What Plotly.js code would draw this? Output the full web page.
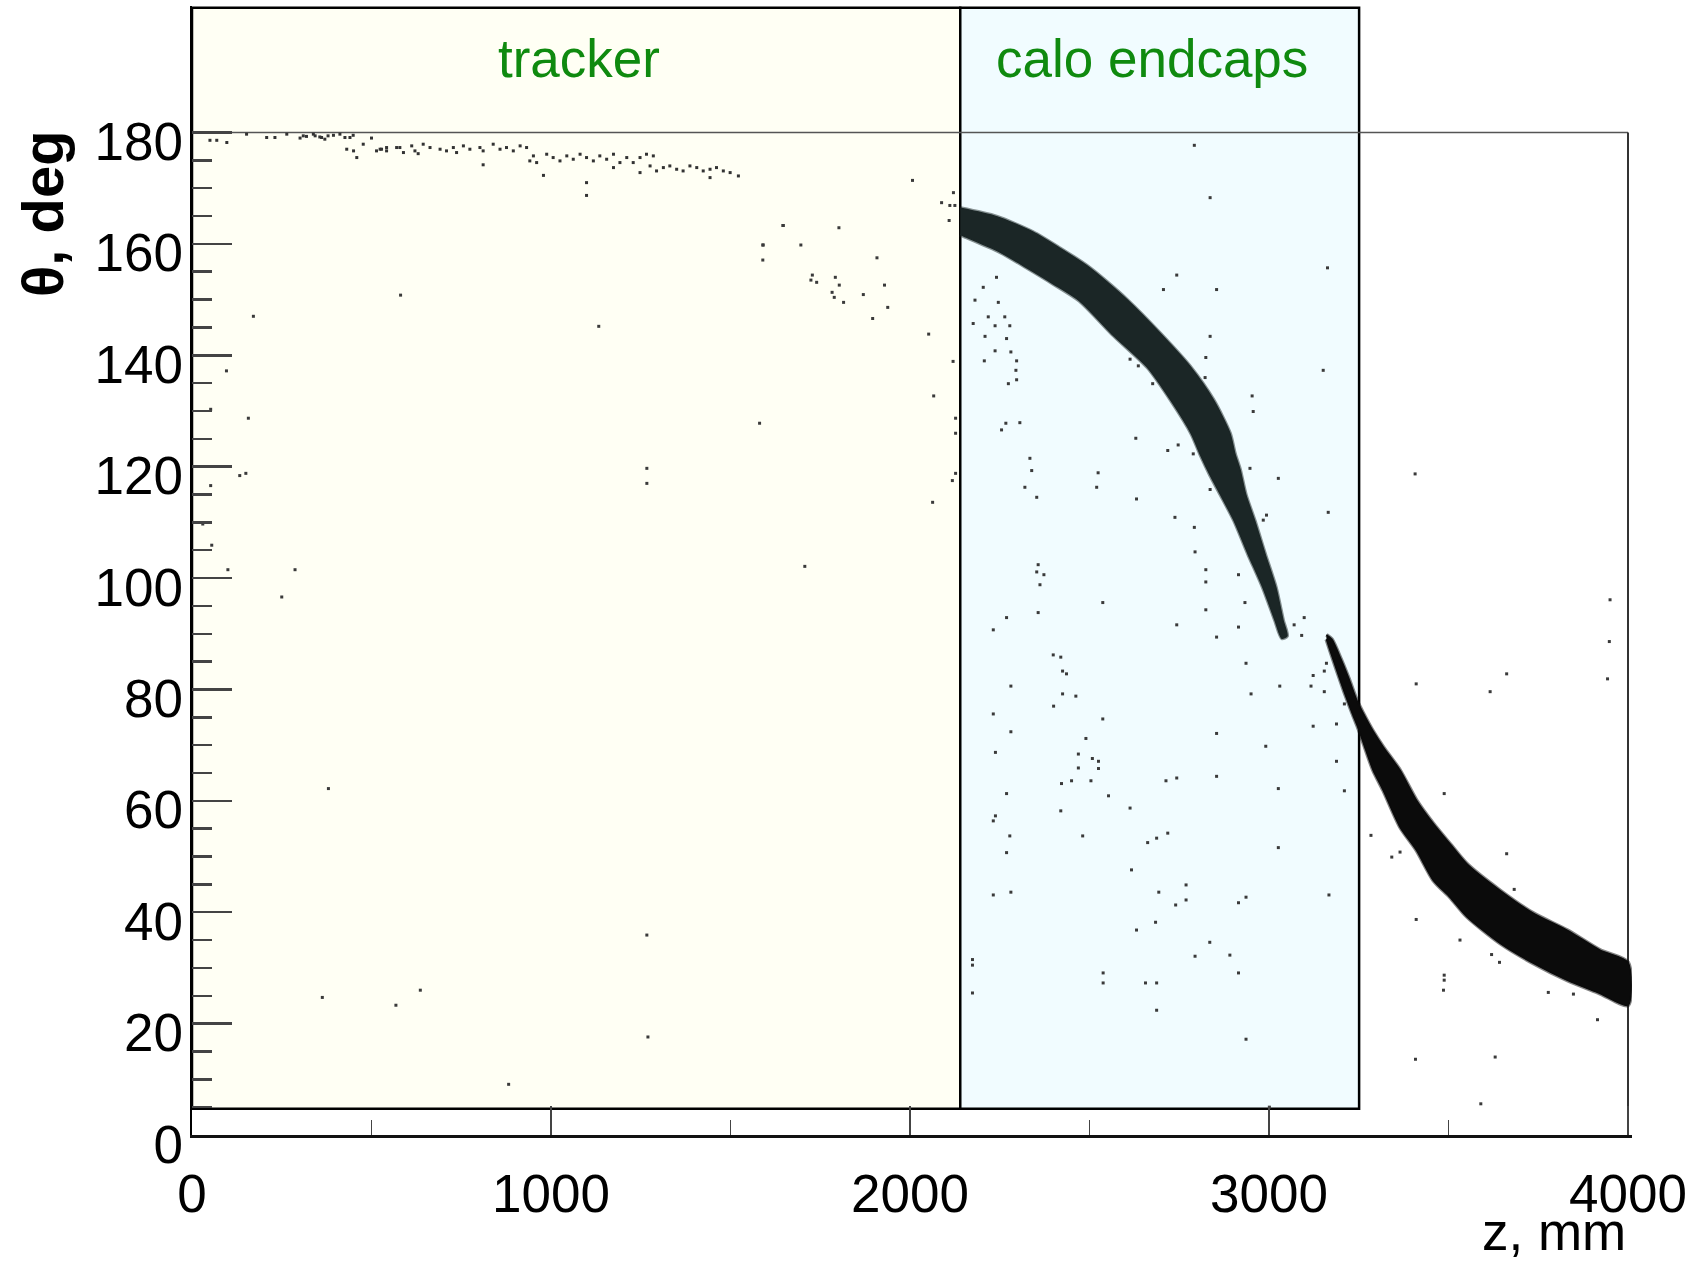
<!DOCTYPE html>
<html>
<head>
<meta charset="utf-8">
<script src="https://cdn.plot.ly/plotly-3.0.1.min.js"></script>
<style>html,body{margin:0;padding:0;background:#fff;}#chart{width:1695px;height:1263px;}</style>
</head>
<body>
<div id="chart"></div>
<script>
// ---- axis ticks ----
const yTickVals = [0, 20, 40, 60, 80, 100, 120, 140, 160, 180];
const yMinorVals = [5, 10, 15, 25, 30, 35, 45, 50, 55, 65, 70, 75, 85, 90, 95, 105, 110, 115, 125, 130, 135, 145, 150, 155, 165, 170, 175];
const xTickVals = [0, 1000, 2000, 3000, 4000];
const xMinorVals = [500, 1500, 2500, 3500];

// ---- detector regions (z in mm, theta in deg) ----
const regionNames = ["tracker", "calo endcaps"];
const regionZ0 = [0, 2140];
const regionZ1 = [2140, 3251];
const regionTheta0 = 4.7;
const regionTheta1 = 202.4;

// ---- dense hit band in calo endcaps (outline of the band) ----
const caloBandZ = [2140, 2241, 2343, 2418, 2492, 2548, 2604, 2696, 2780, 2845, 2891, 2905, 2919, 2935, 2960, 2989, 3019, 3039, 3050,
                   3036, 3017, 2983, 2942, 2903, 2865, 2836, 2810, 2784, 2728, 2662, 2563, 2472, 2400, 2326, 2246, 2150, 2140];
const caloBandTheta = [166.4, 164.9, 162.1, 159.2, 156.1, 153.2, 150.0, 144.0, 138.0, 132.0, 126.0, 122.3, 119.5, 115.0, 110.3, 104.3, 98.3, 92.4, 89.6,
                       89.2, 92.4, 98.3, 104.3, 110.3, 115.0, 118.5, 122.0, 125.9, 131.8, 137.8, 143.8, 149.8, 152.8, 155.7, 158.7, 161.4, 161.7];

// ---- dense hit band beyond the endcaps ----
const tailBandZ = [3160, 3175, 3200, 3222, 3245, 3262, 3290, 3318, 3365, 3411, 3458, 3504, 3551, 3644, 3737, 3830, 3922, 4000,
                   4000, 3922, 3830, 3737, 3644, 3551, 3504, 3458, 3411, 3365, 3318, 3290, 3265, 3250, 3232, 3210, 3189, 3170, 3160];
const tailBandTheta = [89.8, 89.0, 85.5, 82.0, 78.0, 75.8, 72.5, 69.7, 65.5, 60.1, 55.9, 52.3, 48.7, 43.9, 39.8, 36.8, 33.2, 31.0,
                       23.3, 25.4, 27.8, 30.8, 34.4, 39.2, 42.7, 45.7, 51.1, 55.3, 61.9, 65.5, 70.0, 72.8, 75.7, 79.5, 83.4, 87.0, 89.0];

// ---- sparse hits near theta = 180 in the tracker ----
const trackerHitZ = [50, 69, 97, 152, 208, 231, 264, 301, 319, 343, 361, 379, 394, 412, 440, 459, 477, 431, 450, 524, 542, 570,
  310, 338, 356, 370, 426, 449, 500,
  514, 528, 542, 579, 589, 612, 621, 630, 644, 663, 691, 709, 728, 737, 756, 774, 802, 811, 839, 858, 876, 895, 914, 932,
  811, 951, 979, 941, 960, 988, 1006, 1025, 1044, 1062, 1081, 1099, 1118, 1136, 1155, 1174, 1192, 1211, 1229, 1248, 1266, 1285,
  1099, 1099, 1174, 1248, 1276, 1294, 1313, 1331, 1350, 1368, 1387, 1406, 1424, 1443, 1461, 1480, 1499, 1443, 1522, 1647, 1591];
const trackerHitTheta = [178.6, 178.6, 178.2, 179.7, 179.1, 179.1, 179.7, 179.0, 179.3, 179.4, 179.1, 179.4, 179.5, 179.7, 179.1, 175.5, 177.9, 177.0, 176.7, 177.0, 177.3, 177.3,
  179.4, 179.7, 179.2, 178.8, 179.1, 179.5, 179.0,
  176.7, 177.0, 176.7, 177.3, 176.4, 177.6, 176.7, 176.2, 177.9, 177.3, 177.0, 176.7, 177.3, 176.4, 177.6, 177.0, 177.3, 176.7, 177.9, 177.0, 177.3, 176.7, 177.6, 177.3,
  174.2, 175.8, 172.3, 174.9, 174.6, 176.1, 175.5, 174.9, 175.8, 175.2, 176.1, 175.5, 174.9, 175.8, 175.2, 176.1, 174.6, 175.5, 174.6, 175.5, 176.1, 175.8,
  171.0, 168.7, 173.7, 172.8, 174.0, 173.1, 173.7, 174.0, 173.4, 173.1, 174.0, 173.7, 173.1, 173.4, 173.7, 173.1, 172.8, 171.9, 172.2, 163.3, 159.8];

// ---- isolated hits ----
const isoHitZ = [1646, 1802, 1590, 1696, 1590, 1908, 1728, 1724, 1740, 1792, 1803, 1929, 1783, 1789, 1815, 1870, 1938, 1896, 2052, 2120,
  2066, 2127, 2127, 2127, 2118, 2063, 581, 171, 1133, 96, 1581, 157, 52, 1267, 1267, 133, 150, 52, 30, 55, 100, 287, 250, 1707,
  380, 1267, 363, 568, 636, 1270, 882, 2007, 2121, 2088, 2111, 2125, 2109,
  2792, 2836, 3163, 3151, 2743, 2854, 2706, 2836, 2241, 2204, 2181, 2246, 2218, 2237, 2264, 2176, 2209, 2269, 2278, 2237, 2281, 2207,
  2297, 2295, 2297, 2274, 2267, 2255, 2306, 2334, 2339, 2320, 2353, 2629, 2524, 2520, 2956, 2953, 3026, 2824, 2822, 2613, 2636,
  2676, 2836, 2631, 2747, 2718, 2789, 2947, 2738, 2792, 2993, 2984, 3165,
  2357, 2353, 2373, 2362, 2537, 2357, 2269, 2232, 2824, 2824, 2824, 2915, 2933, 2915, 2743, 2854, 2794, 3098, 3070, 3091, 2399, 2420,
  2425, 2436, 2281, 2425, 2462, 2400, 2537, 2232, 2281, 2936, 2950, 3030, 3117, 3154, 3123, 3188, 3160, 3154, 3123, 2991, 2854, 2854,
  2490, 2469, 2469, 2508, 2525, 2525, 2504, 2422, 2450, 2553, 2238, 2269, 2420, 2613, 2713, 2743, 2232, 2238, 2278, 2269, 2481, 2662,
  2687, 2718, 2617, 3026, 3026, 3188, 2769, 2769, 2740, 2693, 2232, 2281, 2631, 2684, 2915, 2936, 3167, 2835, 2794, 2891, 2174, 2174,
  2174, 2538, 2538, 2656, 2687, 2915, 2687, 2936, 3001, 3210, 3210,
  3410, 3662, 3616, 3943, 3488, 3662, 3683, 3365, 3342, 3284, 3410, 3532, 3620, 3642, 3488, 3488, 3486, 3778, 3848, 3915, 3408, 3630,
  3590, 3407, 3950, 3948];
const isoHitTheta = [163.3, 162.9, 159.8, 159.8, 157.1, 157.5, 154.4, 153.5, 153.1, 154.0, 152.6, 152.6, 151.3, 150.4, 149.5, 150.9, 148.6, 146.6, 143.8, 138.9,
  132.7, 128.7, 126.0, 118.8, 117.5, 113.6, 150.8, 147.0, 145.2, 137.2, 127.8, 128.7, 130.3, 119.7, 117.0, 118.4, 118.8, 116.6, 109.7, 105.9, 101.5, 101.5, 96.6, 102.1,
  62.2, 35.9, 24.7, 23.3, 26.0, 17.6, 9.1, 171.4, 169.2, 167.4, 166.9, 166.9, 164.2,
  177.7, 168.3, 155.7, 137.3, 154.4, 151.8, 151.8, 143.4, 154.0, 152.2, 149.9, 149.5, 146.9, 145.3, 146.9, 145.7, 143.4, 143.0, 145.3, 140.8, 140.6, 139.0,
  139.0, 137.3, 135.6, 134.9, 127.8, 126.6, 127.9, 121.5, 119.3, 116.3, 114.5, 125.1, 118.9, 116.3, 129.9, 132.7, 117.9, 139.6, 136.0, 139.3, 138.1,
  134.9, 115.9, 114.2, 123.9, 122.9, 122.3, 119.7, 110.9, 109.1, 111.3, 110.4, 111.8,
  102.4, 101.1, 100.6, 98.8, 95.6, 93.8, 92.9, 90.7, 101.5, 99.3, 94.3, 100.6, 95.6, 91.2, 91.6, 89.4, 104.7, 92.9, 91.6, 89.7, 86.2, 85.8,
  83.3, 82.8, 80.6, 79.2, 78.8, 77.0, 74.7, 75.6, 72.4, 84.7, 79.2, 80.6, 80.6, 79.6, 73.4, 73.8, 84.7, 83.3, 82.5, 69.8, 72.1, 64.4,
  71.2, 68.4, 65.9, 67.6, 67.1, 65.8, 63.6, 63.1, 63.6, 60.9, 68.7, 61.3, 58.2, 58.7, 63.6, 64.1, 56.4, 57.3, 53.7, 50.7, 53.7, 52.5,
  53.3, 54.2, 47.6, 62.2, 51.6, 67.1, 44.9, 42.2, 41.3, 43.6, 43.1, 43.6, 36.8, 38.2, 41.7, 42.7, 43.1, 34.6, 32.1, 32.3, 31.5, 30.5,
  25.5, 29.1, 27.3, 27.3, 27.3, 29.1, 22.4, 17.2, 5.0, 77.4, 61.8,
  81.0, 82.8, 79.6, 81.9, 61.3, 50.5, 44.1, 50.8, 49.9, 53.8, 38.7, 35.0, 32.4, 31.0, 28.7, 27.8, 26.0, 25.6, 25.3, 20.7, 13.6, 14.0,
  5.6, 118.7, 96.1, 88.6];

// ---- layout constants ----
const FONT = "Liberation Sans, Arial, Helvetica, sans-serif";
const W = 1695, H = 1263;
const M = {l: 192, r: 63, t: 6, b: 128};
const pxPerMm = 0.359;
const pxPerDeg = 1002.5 / 180;
const xMax = (W - M.l - M.r) / pxPerMm;
const yMax = (H - M.t - M.b) / pxPerDeg;

function band(z, th, fill, edge) {
  return [
    {type: 'scatter', mode: 'lines', x: z, y: th, fill: 'none',
     line: {color: edge, width: 4, shape: 'spline', smoothing: 0.7}, hoverinfo: 'skip', showlegend: false},
    {type: 'scatter', mode: 'lines', x: z, y: th, fill: 'toself', fillcolor: fill,
     line: {color: fill, width: 1.5, shape: 'spline', smoothing: 0.7}, hoverinfo: 'skip', showlegend: false}
  ];
}

const traces = [].concat(
  band(caloBandZ, caloBandTheta, '#1b2626', 'rgba(27,38,38,0.5)'),
  band(tailBandZ, tailBandTheta, '#0b0b0b', 'rgba(11,11,11,0.5)'),
  [
    {type: 'scatter', mode: 'markers', x: trackerHitZ, y: trackerHitTheta,
     marker: {symbol: 'square', size: 3, color: '#333'}, hoverinfo: 'x+y', showlegend: false},
    {type: 'scatter', mode: 'markers', x: isoHitZ, y: isoHitTheta,
     marker: {symbol: 'square', size: 3, color: '#3a3a3a'}, hoverinfo: 'x+y', showlegend: false}
  ]
);

const regionFills = ['#fffff4', '#f1fcff'];
const shapes = [];
for (let i = 0; i < regionNames.length; i++) {
  shapes.push({type: 'rect', xref: 'x', yref: 'y', layer: 'below',
    x0: regionZ0[i], x1: regionZ1[i], y0: regionTheta0, y1: regionTheta1,
    fillcolor: regionFills[i], line: {color: '#000', width: 2.5}});
}
shapes.push({type: 'line', xref: 'x', yref: 'y', layer: 'below', x0: 0, x1: 4000, y0: 180, y1: 180,
  line: {color: '#555', width: 1.5}});
shapes.push({type: 'line', xref: 'x', yref: 'y', layer: 'below', x0: 4000, x1: 4000, y0: 0, y1: 180,
  line: {color: '#333', width: 2}});

const annotations = [
  {text: regionNames[0], xref: 'x', yref: 'y', x: (regionZ0[0] + regionZ1[0]) / 2 + 8, y: 193.3,
   showarrow: false, font: {family: FONT, size: 53, color: '#0f8a0f'}, xanchor: 'center', yanchor: 'middle'},
  {text: regionNames[1], xref: 'x', yref: 'y', x: (regionZ0[1] + regionZ1[1]) / 2 - 22, y: 193.3,
   showarrow: false, font: {family: FONT, size: 53, color: '#0f8a0f'}, xanchor: 'center', yanchor: 'middle'},
  {text: 'z, mm', xref: 'x', yref: 'paper', x: 4000, y: (H - M.b - 1231) / (H - M.t - M.b),
   showarrow: false, font: {family: FONT, size: 53, color: '#000'}, xanchor: 'right', yanchor: 'middle'},
  {text: '<b>θ, deg</b>', xref: 'paper', yref: 'paper', x: (43 - M.l) / (W - M.l - M.r), y: (H - M.b - 214) / (H - M.t - M.b),
   textangle: -90, showarrow: false, font: {family: FONT, size: 58, color: '#000'}, xanchor: 'center', yanchor: 'middle'}
];

const layout = {
  width: W, height: H,
  margin: M,
  paper_bgcolor: '#fff', plot_bgcolor: '#fff',
  showlegend: false,
  font: {family: FONT, color: '#000'},
  xaxis: {
    range: [0, xMax], tickmode: 'array', tickvals: xTickVals, ticktext: xTickVals.map(String),
    ticks: 'inside', ticklen: 29, tickwidth: 2.5, tickcolor: '#444',
    minor: {tickmode: 'array', tickvals: xMinorVals, ticks: 'inside', ticklen: 15, tickwidth: 1.8, tickcolor: '#444', showgrid: false},
    showline: true, linecolor: '#111', linewidth: 2.5, showgrid: false, zeroline: false,
    tickfont: {family: FONT, size: 53, color: '#000'}, ticklabelstandoff: 11, fixedrange: true
  },
  yaxis: {
    range: [0, yMax], tickmode: 'array', tickvals: yTickVals, ticktext: yTickVals.map(String),
    ticks: 'inside', ticklen: 40, tickwidth: 2.5, tickcolor: '#444',
    minor: {tickmode: 'array', tickvals: yMinorVals, ticks: 'inside', ticklen: 20, tickwidth: 2.5, tickcolor: '#444', showgrid: false},
    showline: true, linecolor: '#000', linewidth: 2.5, showgrid: false, zeroline: false,
    tickfont: {family: FONT, size: 53, color: '#000'}, ticklabelstandoff: -4, ticklabelshift: 9, fixedrange: true
  },
  shapes: shapes,
  annotations: annotations
};

Plotly.newPlot('chart', traces, layout, {displayModeBar: false, staticPlot: true});
</script>
</body>
</html>
